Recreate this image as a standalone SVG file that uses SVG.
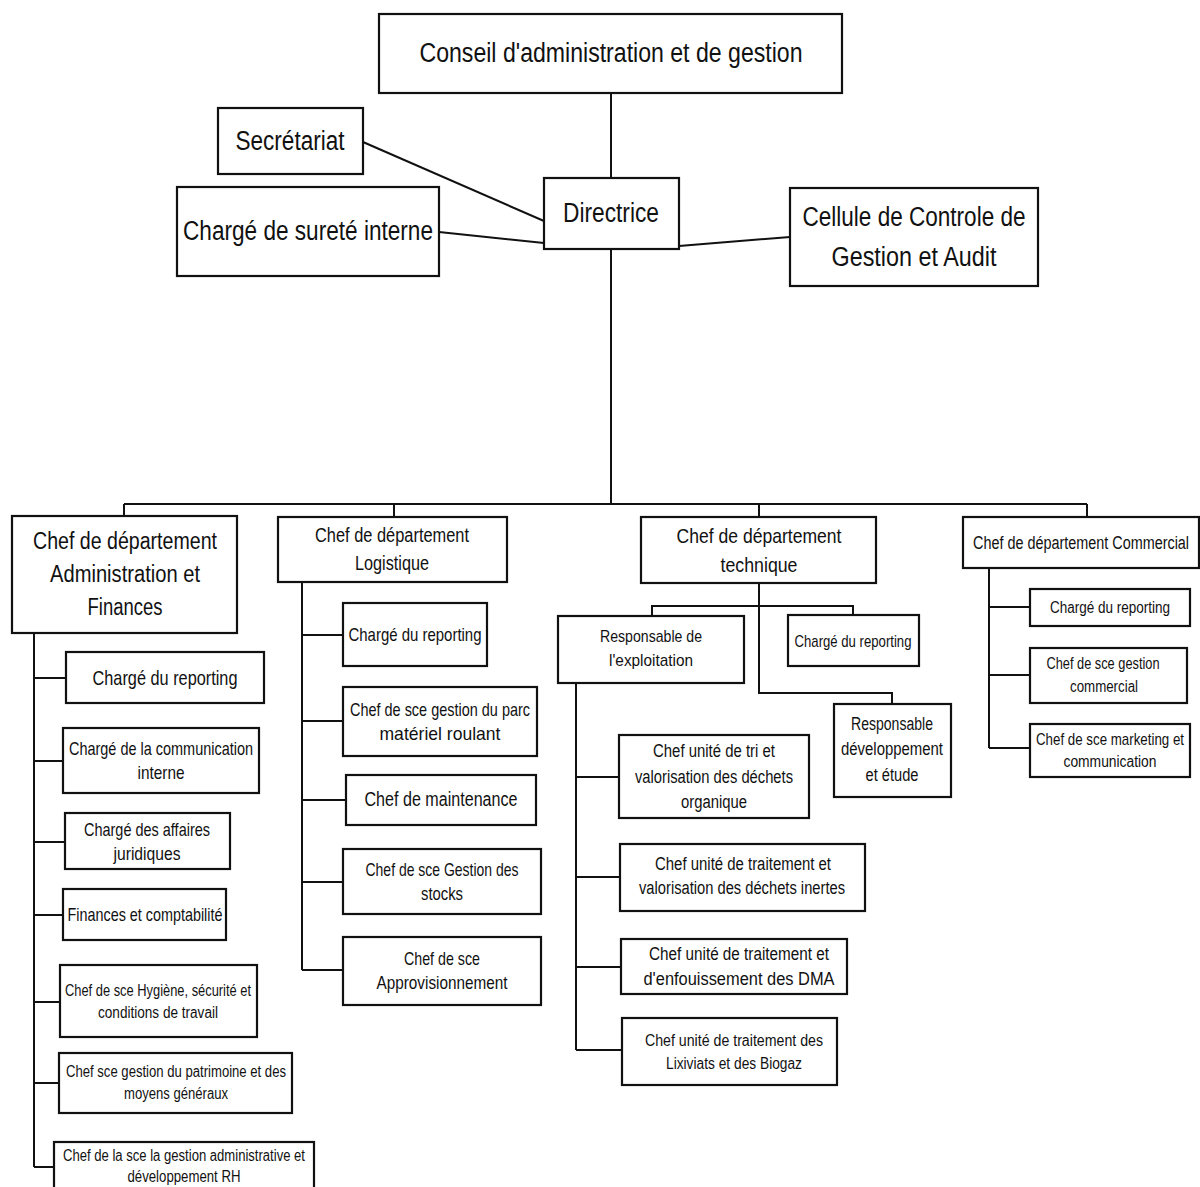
<svg xmlns="http://www.w3.org/2000/svg" width="1200" height="1187" viewBox="0 0 1200 1187">
<style>
.b{fill:#fff;stroke:#111;stroke-width:2.2}
.t{font-family:"Liberation Sans",Arial,sans-serif;fill:#111;text-anchor:middle;dominant-baseline:central}
.c{fill:none;stroke:#111;stroke-width:2}
</style>
<rect width="1200" height="1187" fill="#fff"/>
<g id="connectors">
<path class="c" d="M611,93V178"/>
<path class="c" d="M363,142L544,221"/>
<path class="c" d="M439,232L544,243"/>
<path class="c" d="M679,246L790,237"/>
<path class="c" d="M611,249V504"/>
<path class="c" d="M124,504H1087"/>
<path class="c" d="M124,504V517M394,504V517M759,504V517M1087,504V517"/>
<path class="c" d="M34,633V1167M34,678H66M34,761H63M34,842H65M34,915H63M34,1002H60M34,1083H59M34,1167H54"/>
<path class="c" d="M302,582V970M302,635H343M302,721H343M302,800H346M302,882H343M302,970H343"/>
<path class="c" d="M759,583V693H892V704M652,616V606H853V615"/>
<path class="c" d="M576,683V1050M576,777H619M576,877H620M576,967H621M576,1050H622"/>
<path class="c" d="M989,568V748M989,607H1030M989,675H1030M989,748H1030"/>
</g>
<g id="n-conseil"><rect class="b" x="379" y="14" width="463" height="79"/><text class="t" x="611" y="53" font-size="27" textLength="383" lengthAdjust="spacingAndGlyphs">Conseil d'administration et de gestion</text></g>
<g id="n-secretariat"><rect class="b" x="218" y="108" width="145" height="66"/><text class="t" x="290" y="141" font-size="27" textLength="109" lengthAdjust="spacingAndGlyphs">Secrétariat</text></g>
<g id="n-surete"><rect class="b" x="177" y="187" width="262" height="89"/><text class="t" x="308" y="231" font-size="27" textLength="250" lengthAdjust="spacingAndGlyphs">Chargé de sureté interne</text></g>
<g id="n-directrice"><rect class="b" x="544" y="178" width="135" height="71"/><text class="t" x="611" y="213" font-size="27" textLength="96" lengthAdjust="spacingAndGlyphs">Directrice</text></g>
<g id="n-cellule"><rect class="b" x="790" y="188" width="248" height="98"/><text class="t" x="914" y="217" font-size="27" textLength="223" lengthAdjust="spacingAndGlyphs">Cellule de Controle de</text><text class="t" x="914" y="257" font-size="27" textLength="165" lengthAdjust="spacingAndGlyphs">Gestion et Audit</text></g>

<g id="n-af"><rect class="b" x="12" y="516" width="225" height="117"/><text class="t" x="125" y="541" font-size="23" textLength="184" lengthAdjust="spacingAndGlyphs">Chef de département</text><text class="t" x="125" y="574" font-size="23" textLength="150" lengthAdjust="spacingAndGlyphs">Administration et</text><text class="t" x="125" y="607" font-size="23" textLength="75" lengthAdjust="spacingAndGlyphs">Finances</text></g>
<g id="n-af-reporting"><rect class="b" x="66" y="652" width="198" height="51"/><text class="t" x="165" y="677" font-size="21" textLength="145" lengthAdjust="spacingAndGlyphs">Chargé du reporting</text></g>
<g id="n-af-comm"><rect class="b" x="63" y="728" width="196" height="65"/><text class="t" x="161" y="748" font-size="19" textLength="184" lengthAdjust="spacingAndGlyphs">Chargé de la communication</text><text class="t" x="161" y="772" font-size="19" textLength="47" lengthAdjust="spacingAndGlyphs">interne</text></g>
<g id="n-af-jur"><rect class="b" x="65" y="813" width="165" height="56"/><text class="t" x="147" y="829" font-size="19" textLength="126" lengthAdjust="spacingAndGlyphs">Chargé des affaires</text><text class="t" x="147" y="853" font-size="19" textLength="67" lengthAdjust="spacingAndGlyphs">juridiques</text></g>
<g id="n-af-fin"><rect class="b" x="63" y="889" width="163" height="51"/><text class="t" x="145" y="914" font-size="19" textLength="155" lengthAdjust="spacingAndGlyphs">Finances et comptabilité</text></g>
<g id="n-af-hyg"><rect class="b" x="60" y="965" width="197" height="72"/><text class="t" x="158" y="990" font-size="16" textLength="186" lengthAdjust="spacingAndGlyphs">Chef de sce Hygiène, sécurité et</text><text class="t" x="158" y="1012" font-size="16" textLength="120" lengthAdjust="spacingAndGlyphs">conditions de travail</text></g>
<g id="n-af-pat"><rect class="b" x="59" y="1053" width="233" height="60"/><text class="t" x="176" y="1071" font-size="16" textLength="220" lengthAdjust="spacingAndGlyphs">Chef sce gestion du patrimoine et des</text><text class="t" x="176" y="1093" font-size="16" textLength="104" lengthAdjust="spacingAndGlyphs">moyens généraux</text></g>
<g id="n-af-rh"><rect class="b" x="54" y="1142" width="260" height="60"/><text class="t" x="184" y="1155" font-size="16" textLength="242" lengthAdjust="spacingAndGlyphs">Chef de la sce la gestion administrative et</text><text class="t" x="184" y="1176" font-size="16" textLength="113" lengthAdjust="spacingAndGlyphs">développement RH</text></g>

<g id="n-log"><rect class="b" x="278" y="517" width="229" height="65"/><text class="t" x="392" y="535" font-size="20" textLength="154" lengthAdjust="spacingAndGlyphs">Chef de département</text><text class="t" x="392" y="563" font-size="20" textLength="74" lengthAdjust="spacingAndGlyphs">Logistique</text></g>
<g id="n-log-rep"><rect class="b" x="343" y="603" width="144" height="63"/><text class="t" x="415" y="634" font-size="19" textLength="133" lengthAdjust="spacingAndGlyphs">Chargé du reporting</text></g>
<g id="n-log-parc"><rect class="b" x="343" y="687" width="194" height="69"/><text class="t" x="440" y="709" font-size="19" textLength="180" lengthAdjust="spacingAndGlyphs">Chef de sce gestion du parc</text><text class="t" x="440" y="733" font-size="19" textLength="121" lengthAdjust="spacingAndGlyphs">matériel roulant</text></g>
<g id="n-log-maint"><rect class="b" x="346" y="775" width="190" height="50"/><text class="t" x="441" y="799" font-size="20" textLength="153" lengthAdjust="spacingAndGlyphs">Chef de maintenance</text></g>
<g id="n-log-stocks"><rect class="b" x="343" y="849" width="198" height="65"/><text class="t" x="442" y="869" font-size="19" textLength="153" lengthAdjust="spacingAndGlyphs">Chef de sce Gestion des</text><text class="t" x="442" y="893" font-size="19" textLength="42" lengthAdjust="spacingAndGlyphs">stocks</text></g>
<g id="n-log-appro"><rect class="b" x="343" y="937" width="198" height="68"/><text class="t" x="442" y="958" font-size="19" textLength="76" lengthAdjust="spacingAndGlyphs">Chef de sce</text><text class="t" x="442" y="982" font-size="19" textLength="131" lengthAdjust="spacingAndGlyphs">Approvisionnement</text></g>

<g id="n-tech"><rect class="b" x="641" y="517" width="235" height="66"/><text class="t" x="759" y="535" font-size="21" textLength="165" lengthAdjust="spacingAndGlyphs">Chef de département</text><text class="t" x="759" y="564" font-size="21" textLength="77" lengthAdjust="spacingAndGlyphs">technique</text></g>
<g id="n-tech-exp"><rect class="b" x="558" y="616" width="186" height="67"/><text class="t" x="651" y="636" font-size="17" textLength="102" lengthAdjust="spacingAndGlyphs">Responsable de</text><text class="t" x="651" y="660" font-size="17" textLength="84" lengthAdjust="spacingAndGlyphs">l'exploitation</text></g>
<g id="n-tech-rep"><rect class="b" x="788" y="615" width="131" height="51"/><text class="t" x="853" y="641" font-size="17" textLength="117" lengthAdjust="spacingAndGlyphs">Chargé du reporting</text></g>
<g id="n-tech-dev"><rect class="b" x="834" y="704" width="117" height="93"/><text class="t" x="892" y="724" font-size="18" textLength="82" lengthAdjust="spacingAndGlyphs">Responsable</text><text class="t" x="892" y="749" font-size="18" textLength="102" lengthAdjust="spacingAndGlyphs">développement</text><text class="t" x="892" y="775" font-size="18" textLength="53" lengthAdjust="spacingAndGlyphs">et étude</text></g>
<g id="n-tech-tri"><rect class="b" x="619" y="735" width="190" height="83"/><text class="t" x="714" y="751" font-size="18" textLength="122" lengthAdjust="spacingAndGlyphs">Chef unité de tri et</text><text class="t" x="714" y="777" font-size="18" textLength="158" lengthAdjust="spacingAndGlyphs">valorisation des déchets</text><text class="t" x="714" y="802" font-size="18" textLength="66" lengthAdjust="spacingAndGlyphs">organique</text></g>
<g id="n-tech-inertes"><rect class="b" x="620" y="844" width="245" height="67"/><text class="t" x="743" y="864" font-size="18" textLength="176" lengthAdjust="spacingAndGlyphs">Chef unité de traitement et</text><text class="t" x="742" y="888" font-size="18" textLength="206" lengthAdjust="spacingAndGlyphs">valorisation des déchets inertes</text></g>
<g id="n-tech-dma"><rect class="b" x="621" y="939" width="226" height="55"/><text class="t" x="739" y="954" font-size="18" textLength="180" lengthAdjust="spacingAndGlyphs">Chef unité de traitement et</text><text class="t" x="739" y="979" font-size="18" textLength="191" lengthAdjust="spacingAndGlyphs">d'enfouissement des DMA</text></g>
<g id="n-tech-lix"><rect class="b" x="622" y="1018" width="215" height="67"/><text class="t" x="734" y="1040" font-size="16" textLength="178" lengthAdjust="spacingAndGlyphs">Chef unité de traitement des</text><text class="t" x="734" y="1063" font-size="16" textLength="136" lengthAdjust="spacingAndGlyphs">Lixiviats et des Biogaz</text></g>

<g id="n-com"><rect class="b" x="963" y="517" width="236" height="51"/><text class="t" transform="translate(1081,543) scale(0.78,1)" x="0" y="0" font-size="19" textLength="277" lengthAdjust="spacingAndGlyphs">Chef de département Commercial</text></g>
<g id="n-com-rep"><rect class="b" x="1030" y="589" width="160" height="37"/><text class="t" x="1110" y="607" font-size="16" textLength="120" lengthAdjust="spacingAndGlyphs">Chargé du reporting</text></g>
<g id="n-com-gest"><rect class="b" x="1030" y="648" width="157" height="55"/><text class="t" x="1103" y="663" font-size="16" textLength="113" lengthAdjust="spacingAndGlyphs">Chef de sce gestion</text><text class="t" x="1104" y="686" font-size="16" textLength="68" lengthAdjust="spacingAndGlyphs">commercial</text></g>
<g id="n-com-mkt"><rect class="b" x="1030" y="724" width="160" height="53"/><text class="t" transform="translate(1110,739) scale(0.8,1)" x="0" y="0" font-size="16" textLength="185" lengthAdjust="spacingAndGlyphs">Chef de sce marketing et</text><text class="t" x="1110" y="761" font-size="16" textLength="93" lengthAdjust="spacingAndGlyphs">communication</text></g>
</svg>
